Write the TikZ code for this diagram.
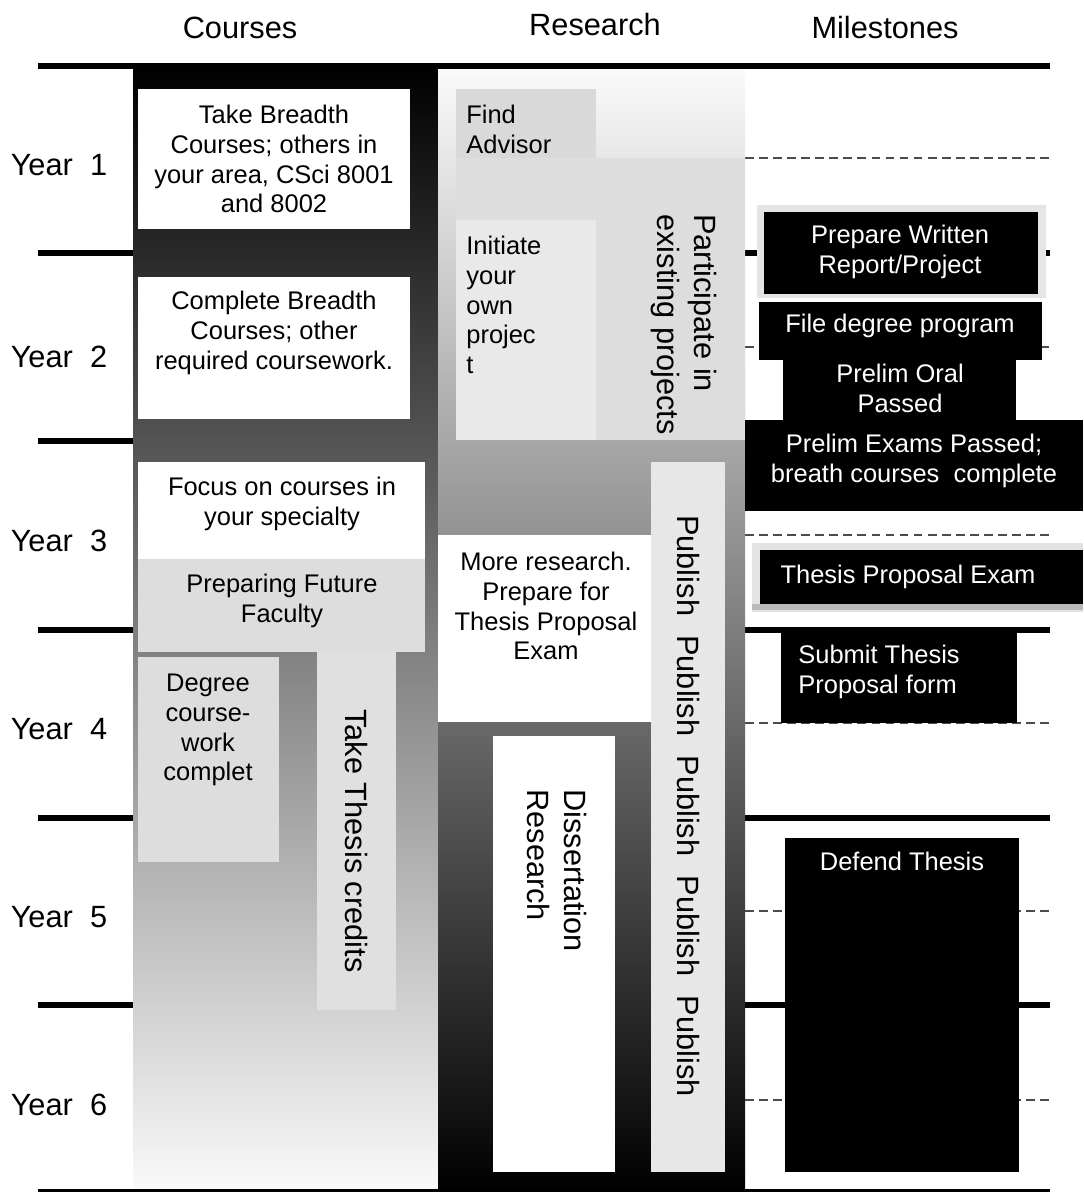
\documentclass[tikz,border=0pt]{standalone}
\usepackage{fontspec}
\setmainfont{Liberation Sans}
\tikzset{
  txt/.style={inner sep=0pt, align=center, font=\fontsize{14.5}{17}\selectfont},
  ltxt/.style={txt, align=left},
  wtxt/.style={txt, text=white},
  wltxt/.style={ltxt, text=white},
  rtxt/.style={inner sep=0pt, rotate=-90, align=left, font=\fontsize{17.5}{21}\selectfont},
  hdr/.style={inner sep=0pt, font=\fontsize{17.5}{21}\selectfont},
  yline/.style={line width=3.4pt},
  hline/.style={line width=1.1pt, dash pattern=on 5pt off 3pt, gray!60!black},
  wbox/.style={fill=white},
  gbox/.style={fill=gray!27},
  lbox/.style={fill=gray!18},
  bbox/.style={fill=black},
}
\begin{document}
\begin{tikzpicture}[x=0.02cm,y=-0.02cm]
\useasboundingbox (0,0) rectangle (1083,1192);
\fill[white] (0,0) rectangle (1083,1192);
% year lines and half-year dashed lines
\foreach \yy in {253,441,630,818,1005} \draw[yline] (38,\yy) -- (1050,\yy);
\foreach \yy in {158,347,535,723,911,1100} \draw[hline] (745,\yy) -- (1050,\yy);
% column backgrounds
\shade[top color=black, bottom color=gray!4] (133,66) rectangle (438,1192);
\shade[top color=gray!3, bottom color=black] (438,66) rectangle (745,1192);
\draw[line width=3.9pt] (38,66) -- (1050,66);
\draw[line width=1.7pt] (38,1190) -- (1050,1190);
% headers
\node[hdr] (hC) at (240,28) {Courses};
\node[hdr] (hR) at (595,25) {Research};
\node[hdr] (hM) at (885,28) {Milestones};
\node[hdr] (y1) at (59,165) {Year\hspace{0.56em}1};
\node[hdr] (y2) at (59,357) {Year\hspace{0.56em}2};
\node[hdr] (y3) at (59,541) {Year\hspace{0.56em}3};
\node[hdr] (y4) at (59,729) {Year\hspace{0.56em}4};
\node[hdr] (y5) at (59,917) {Year\hspace{0.56em}5};
\node[hdr] (y6) at (59,1105) {Year\hspace{0.56em}6};
% courses column
\fill[wbox] (138,89) rectangle (410,229);
\node[txt] (c1) at (274,159) {Take Breadth\\Courses; others in\\your area, CSci 8001\\and 8002};
\fill[wbox] (138,277) rectangle (410,419);
\node[txt] (c2) at (274,333) {Complete Breadth\\Courses; other\\required coursework.};
\fill[wbox] (138,462) rectangle (425,559);
\node[txt] (c3) at (282,504) {Focus on courses in\\your specialty};
\fill[gbox] (138,559) rectangle (425,652);
\node[txt] (c4) at (282,601) {Preparing Future\\Faculty};
\fill[gbox] (138,657) rectangle (279,862);
\node[txt] (c5) at (208,730) {Degree\\course-\\work\\complet};
\fill[fill=gray!24] (317,652) rectangle (396,1010);
\node[rtxt, align=center] (c6) at (356,841) {Take Thesis credits};
% research column
\fill[fill=gray!30] (456,89) rectangle (596,158);
\node[ltxt, anchor=west] (r1) at (466,129) {Find\\Advisor};
\fill[gbox] (456,158) rectangle (745,440);
\node[rtxt, anchor=north west] (r2) at (717,214) {Participate in\\existing projects};
\fill[fill=gray!17] (456,220) rectangle (596,440);
\node[ltxt, anchor=west] (r3) at (466,305) {Initiate\\your\\own\\projec\\t};
\fill[wbox] (438,535) rectangle (651,722);
\node[txt] (r4) at (546,606) {More research.\\Prepare for\\Thesis Proposal\\Exam};
\fill[fill=gray!19] (651,462) rectangle (725,1172);
\node[rtxt, align=center] (r5) at (688,806) {Publish\hspace{0.35em} Publish\hspace{0.35em} Publish\hspace{0.35em} Publish\hspace{0.35em} Publish};
\fill[wbox] (493,736) rectangle (615,1172);
\node[rtxt, anchor=north west] (r6) at (587,789) {Dissertation\\Research};
% milestones column
\fill[fill=gray!20] (757,205) rectangle (1046,298);
\fill[bbox] (764,212) rectangle (1038,294);
\node[wtxt] (m1) at (900,252) {Prepare Written\\Report/Project};
\fill[bbox] (759,302) rectangle (1042,360);
\node[wtxt] (m2) at (900,326) {File degree program};
\fill[bbox] (783,360) rectangle (1016,420);
\node[wtxt] (m3) at (900,388) {Prelim Oral\\Passed};
\fill[bbox] (745,420) rectangle (1083,511);
\node[wtxt] (m4) at (914,461) {Prelim Exams Passed;\\breath courses\ \ complete};
\fill[fill=gray!22] (752,543) rectangle (1083,612);
\fill[fill=gray!55] (752,604) rectangle (1083,610);
\fill[bbox] (760,550) rectangle (1083,604);
\node[wtxt] (m5) at (908,577) {Thesis Proposal Exam};
\fill[bbox] (781,630) rectangle (1017,723);
\node[wltxt, anchor=west] (m6) at (798,672) {Submit Thesis\\Proposal form};
\fill[bbox] (785,838) rectangle (1019,1172);
\node[wtxt] (m7) at (902,861) {Defend Thesis};
\end{tikzpicture}
\end{document}
